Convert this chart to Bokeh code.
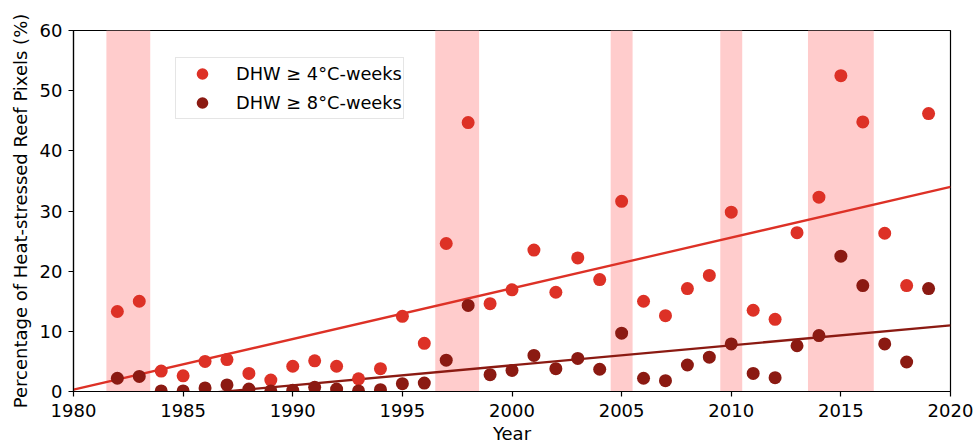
from bokeh.plotting import figure
from bokeh.models import Range1d, BoxAnnotation, Legend, LegendItem, FixedTicker
from bokeh.embed import file_html
from bokeh.resources import INLINE

years = list(range(1982, 2020))
dhw4 = [13.3, 15.0, 3.4, 2.6, 5.0, 5.3, 3.0, 1.9, 4.2, 5.1, 4.2, 2.1, 3.8, 12.5, 8.0,
        24.6, 44.7, 14.6, 16.9, 23.5, 16.5, 22.2, 18.6, 31.6, 15.0, 12.6, 17.1, 19.3,
        29.8, 13.5, 12.0, 26.4, 32.3, 52.5, 44.8, 26.3, 17.6, 46.2]
dhw8 = [2.2, 2.5, 0.1, 0.1, 0.6, 1.1, 0.4, 0.1, 0.2, 0.7, 0.4, 0.1, 0.3, 1.3, 1.4,
        5.2, 14.3, 2.8, 3.5, 6.0, 3.8, 5.5, 3.7, 9.7, 2.2, 1.8, 4.4, 5.7,
        7.9, 3.0, 2.3, 7.6, 9.3, 22.5, 17.6, 7.9, 4.9, 17.1]

trend_years = [1980, 2020]
trend4 = [0.3, 34.0]
trend8 = [-2.3, 11.0]

band_start = [1981.5, 1996.5, 2004.5, 2009.5, 2013.5]
band_end = [1983.5, 1998.5, 2005.5, 2010.5, 2016.5]

x_ticks = [1980, 1985, 1990, 1995, 2000, 2005, 2010, 2015, 2020]
y_ticks = [0, 10, 20, 30, 40, 50, 60]

RED = "#dd3126"
DARK = "#8b1a12"
FONT = "DejaVu Sans"
FS = "18px"

p = figure(width=976, height=446, output_backend="svg", toolbar_location=None,
           x_range=Range1d(1980, 2020), y_range=Range1d(0, 60),
           min_border_left=73, min_border_right=26, min_border_top=30, min_border_bottom=55)

for a, b in zip(band_start, band_end):
    p.add_layout(BoxAnnotation(left=a, right=b, fill_color="#ffcccc", fill_alpha=1.0,
                               line_color=None, level="underlay"))

p.line(trend_years, trend4, color=RED, line_width=2.3)
p.line(trend_years, trend8, color=DARK, line_width=2.3)
r4 = p.scatter(years, dhw4, size=13, color=RED, line_color=None)
r8 = p.scatter(years, dhw8, size=13, color=DARK, line_color=None)

legend = Legend(items=[LegendItem(label="DHW \u2265 4\u00b0C-weeks", renderers=[r4]),
                       LegendItem(label="DHW \u2265 8\u00b0C-weeks", renderers=[r8])],
                location=(102, 272), padding=1, spacing=0, glyph_width=50, glyph_height=29,
                label_height=29, label_standoff=9, margin=0,
                label_text_font=FONT, label_text_font_size="17.8px", label_text_color="black",
                border_line_color="#cccccc", border_line_width=1.2,
                background_fill_color="white", background_fill_alpha=0.8)
p.add_layout(legend, "center")

p.grid.visible = False
p.outline_line_color = "black"
p.outline_line_width = 1.2
p.background_fill_color = "white"

for ax in (p.xaxis[0], p.yaxis[0]):
    ax.axis_line_color = "black"
    ax.axis_line_width = 1.2
    ax.major_tick_out = 5
    ax.major_tick_in = 0
    ax.major_tick_line_width = 1.2
    ax.minor_tick_line_color = None
    ax.major_label_text_font = FONT
    ax.major_label_text_font_size = FS
    ax.major_label_text_color = "black"
    ax.axis_label_text_font = FONT
    ax.axis_label_text_font_size = FS
    ax.axis_label_text_font_style = "normal"
    ax.axis_label_text_color = "black"

p.xaxis.ticker = FixedTicker(ticks=x_ticks)
p.yaxis.ticker = FixedTicker(ticks=y_ticks)
p.xaxis.axis_label = "Year"
p.yaxis.axis_label = "Percentage of Heat-stressed Reef Pixels (%)"
p.xaxis.major_label_standoff = 7
p.yaxis.major_label_standoff = 6
p.xaxis.axis_label_standoff = 3
p.yaxis.axis_label_standoff = 6

open("out.html", "w").write(file_html(p, INLINE))
